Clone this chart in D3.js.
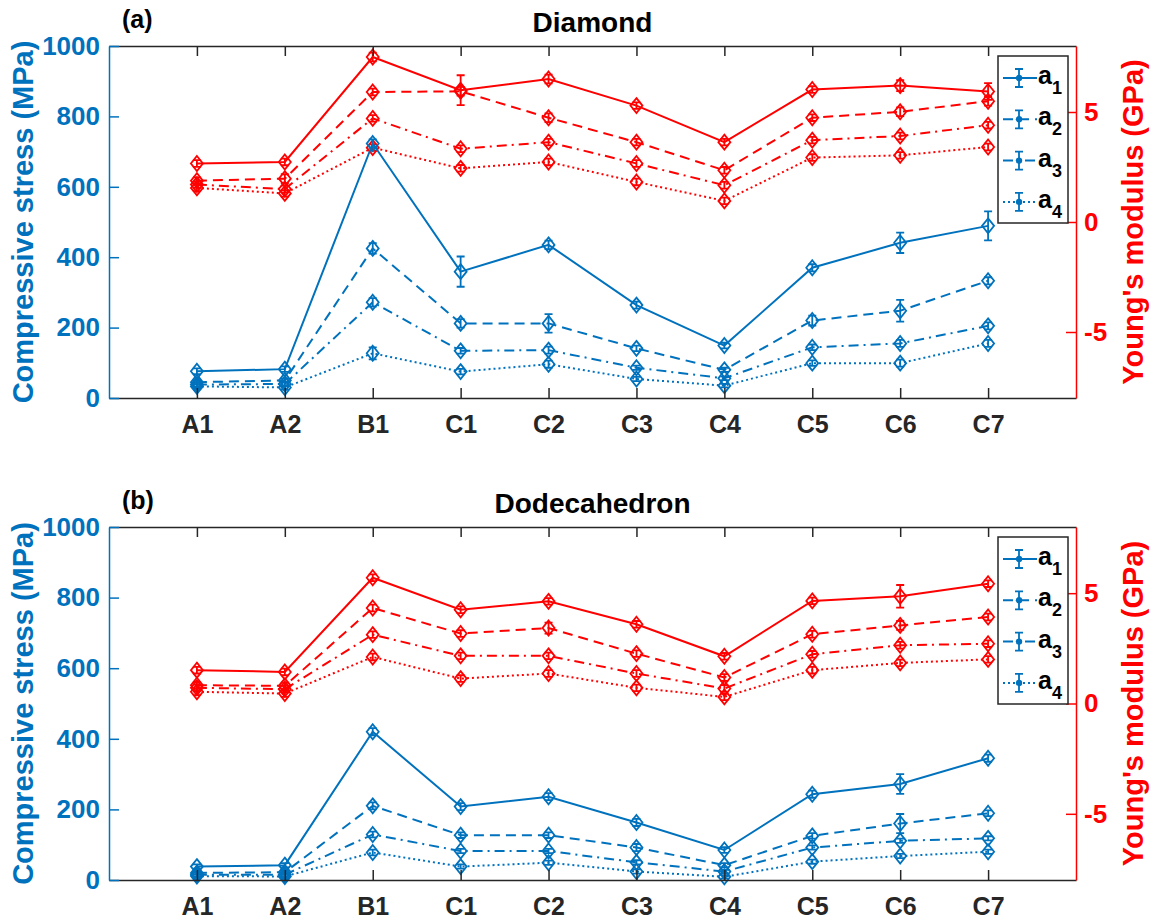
<!DOCTYPE html>
<html>
<head>
<meta charset="utf-8">
<script src="https://cdn.jsdelivr.net/npm/d3@7"></script>
<style>
  body { margin: 0; background: #fff; }
  svg text { font-family: "Liberation Sans", Arial, sans-serif; font-weight: bold; }
</style>
</head>
<body>
<div id="chart"></div>
<script>
var categories = ["A1", "A2", "B1", "C1", "C2", "C3", "C4", "C5", "C6", "C7"];
var seriesNames = ["1", "2", "3", "4"];
var stressTicks = [0, 200, 400, 600, 800, 1000];
var modulusTicks = [-5, 0, 5];

// (a) Diamond, compressive stress (MPa), one row per series a1..a4
var diamondStress = [
  [76, 82, 723, 359, 435, 264, 149, 370, 441, 489],
  [45, 50, 425, 212, 212, 141, 80, 220, 248, 333],
  [38, 40, 272, 134, 136, 86, 56, 144, 155, 205],
  [33, 30, 127, 75, 96, 54, 35, 99, 99, 155]
];
var diamondStressErr = [
  [8, 8, 12, 43, 12, 10, 8, 10, 29, 41],
  [6, 6, 15, 12, 26, 8, 6, 14, 31, 10],
  [6, 6, 12, 8, 10, 6, 5, 8, 10, 10],
  [6, 6, 17, 8, 10, 6, 5, 8, 10, 10]
];
// (a) Diamond, Young's modulus (GPa)
var diamondModulus = [
  [2.66, 2.73, 7.50, 5.99, 6.50, 5.29, 3.63, 6.02, 6.20, 5.93],
  [1.88, 1.97, 5.91, 5.94, 4.74, 3.63, 2.35, 4.74, 5.01, 5.49],
  [1.70, 1.50, 4.71, 3.33, 3.63, 2.66, 1.67, 3.72, 3.91, 4.40],
  [1.55, 1.30, 3.38, 2.44, 2.73, 1.82, 0.96, 2.93, 3.03, 3.41]
];
var diamondModulusErr = [
  [0.15, 0.15, 0.2, 0.68, 0.2, 0.15, 0.15, 0.15, 0.25, 0.38],
  [0.15, 0.2, 0.15, 0.2, 0.2, 0.15, 0.15, 0.15, 0.2, 0.2],
  [0.15, 0.15, 0.15, 0.15, 0.15, 0.15, 0.15, 0.15, 0.15, 0.15],
  [0.15, 0.15, 0.15, 0.15, 0.15, 0.15, 0.15, 0.15, 0.15, 0.15]
];

// (b) Dodecahedron
var dodecaStress = [
  [38, 42, 420, 208, 236, 163, 85, 243, 272, 345],
  [20, 22, 210, 127, 127, 92, 42, 125, 160, 189],
  [15, 15, 129, 82, 82, 50, 24, 92, 111, 118],
  [11, 10, 78, 38, 49, 24, 9, 52, 68, 80]
];
var dodecaStressErr = [
  [6, 6, 10, 10, 10, 10, 8, 10, 28, 10],
  [5, 5, 10, 8, 8, 10, 6, 8, 27, 8],
  [5, 5, 8, 6, 6, 6, 5, 6, 6, 6],
  [5, 5, 8, 6, 6, 6, 5, 6, 6, 6]
];
var dodecaModulus = [
  [1.51, 1.43, 5.70, 4.25, 4.63, 3.59, 2.14, 4.65, 4.86, 5.43],
  [0.83, 0.80, 4.33, 3.17, 3.42, 2.26, 1.18, 3.14, 3.54, 3.92],
  [0.71, 0.65, 3.12, 2.16, 2.16, 1.36, 0.68, 2.23, 2.64, 2.71],
  [0.53, 0.45, 2.11, 1.13, 1.36, 0.71, 0.30, 1.51, 1.84, 2.00]
];
var dodecaModulusErr = [
  [0.15, 0.15, 0.15, 0.15, 0.15, 0.15, 0.15, 0.15, 0.51, 0.15],
  [0.15, 0.15, 0.15, 0.15, 0.25, 0.15, 0.15, 0.15, 0.2, 0.15],
  [0.15, 0.15, 0.15, 0.15, 0.15, 0.15, 0.15, 0.15, 0.15, 0.15],
  [0.15, 0.15, 0.15, 0.15, 0.15, 0.15, 0.15, 0.15, 0.15, 0.15]
];

var blue = "#0072BD";
var red = "#FF0000";
var dark = "#262626";
var dashes = [null, "10,6", "10,5,2,5", "2,3"];
var tickLen = 10;

var width = 1155, height = 922;
var plotLeft = 109, plotRight = 1076;

var svg = d3.select("#chart").append("svg")
  .attr("width", width)
  .attr("height", height);

var x = d3.scaleLinear().domain([0, categories.length + 1]).range([plotLeft, plotRight]);

var panels = [
  {tag: "(a)", title: "Diamond", top: 46, bottom: 398,
   stress: diamondStress, stressErr: diamondStressErr,
   modulus: diamondModulus, modulusErr: diamondModulusErr},
  {tag: "(b)", title: "Dodecahedron", top: 527, bottom: 880,
   stress: dodecaStress, stressErr: dodecaStressErr,
   modulus: dodecaModulus, modulusErr: dodecaModulusErr}
];

function diamond(cx, cy) {
  return "M" + cx + "," + (cy - 7.5) + "L" + (cx + 6) + "," + cy +
    "L" + cx + "," + (cy + 7.5) + "L" + (cx - 6) + "," + cy + "Z";
}

function drawSeries(g, values, errs, y, color, dash) {
  var pts = values.map((v, i) => ({x: x(i + 1), v: v, e: errs[i]}));
  var line = d3.line().x(d => d.x).y(d => y(d.v));
  g.append("path")
    .attr("d", line(pts))
    .attr("fill", "none")
    .attr("stroke", color)
    .attr("stroke-width", 2)
    .attr("stroke-dasharray", dash);

  var eb = g.append("g").attr("stroke", color).attr("stroke-width", 1.8).attr("fill", "none");
  eb.selectAll("path.bar")
    .data(pts)
    .enter()
    .append("path")
    .attr("class", "bar")
    .attr("d", d => {
      var y0 = y(d.v - d.e), y1 = y(d.v + d.e);
      return "M" + d.x + "," + y0 + "V" + y1 +
        "M" + (d.x - 4) + "," + y0 + "H" + (d.x + 4) +
        "M" + (d.x - 4) + "," + y1 + "H" + (d.x + 4);
    });
  eb.selectAll("path.mk")
    .data(pts)
    .enter()
    .append("path")
    .attr("class", "mk")
    .attr("d", d => diamond(d.x, y(d.v)));
}

panels.forEach(function(p) {
  var g = svg.append("g");
  var yL = d3.scaleLinear().domain([0, 1000]).range([p.bottom, p.top]);
  var yR = d3.scaleLinear().domain([-8, 8]).range([p.bottom, p.top]);

  // modulus curves (red) then stress curves (blue)
  p.modulus.forEach((vals, k) => drawSeries(g, vals, p.modulusErr[k], yR, red, dashes[k]));
  p.stress.forEach((vals, k) => drawSeries(g, vals, p.stressErr[k], yL, blue, dashes[k]));

  // bottom axis
  var xb = g.append("g")
    .attr("transform", "translate(0," + p.bottom + ")")
    .call(d3.axisBottom(x)
      .tickValues(d3.range(1, categories.length + 1))
      .tickFormat(d => categories[d - 1])
      .tickSizeInner(-tickLen).tickSizeOuter(0).tickPadding(17));
  xb.select(".domain").attr("stroke", dark).attr("stroke-width", 1.5);
  xb.selectAll(".tick line").attr("stroke", dark).attr("stroke-width", 1.5);
  xb.selectAll(".tick text").attr("fill", dark).style("font-size", "25px").attr("dy", "0.71em");

  // top axis
  var xt = g.append("g")
    .attr("transform", "translate(0," + p.top + ")")
    .call(d3.axisTop(x)
      .tickValues(d3.range(1, categories.length + 1))
      .tickFormat("")
      .tickSizeInner(-tickLen).tickSizeOuter(0));
  xt.select(".domain").attr("stroke", dark).attr("stroke-width", 1.5);
  xt.selectAll(".tick line").attr("stroke", dark).attr("stroke-width", 1.5);

  // left axis
  var ya = g.append("g")
    .attr("transform", "translate(" + plotLeft + ",0)")
    .call(d3.axisLeft(yL).tickValues(stressTicks).tickFormat(d => String(d))
      .tickSizeInner(-tickLen).tickSizeOuter(0).tickPadding(9));
  ya.select(".domain").attr("stroke", blue).attr("stroke-width", 1.5);
  ya.selectAll(".tick line").attr("stroke", blue).attr("stroke-width", 1.5);
  ya.selectAll(".tick text").attr("fill", blue).style("font-size", "26px");

  // right axis
  var yb = g.append("g")
    .attr("transform", "translate(" + plotRight + ",0)")
    .call(d3.axisRight(yR).tickValues(modulusTicks).tickFormat(d => String(d))
      .tickSizeInner(-tickLen).tickSizeOuter(0).tickPadding(8));
  yb.select(".domain").attr("stroke", red).attr("stroke-width", 1.5);
  yb.selectAll(".tick line").attr("stroke", red).attr("stroke-width", 1.5);
  yb.selectAll(".tick text").attr("fill", red).style("font-size", "26px");

  var midY = (p.top + p.bottom) / 2;
  g.append("text")
    .attr("transform", "translate(33," + midY + ") rotate(-90)")
    .attr("text-anchor", "middle")
    .attr("fill", blue)
    .style("font-size", "29px")
    .text("Compressive stress (MPa)");
  g.append("text")
    .attr("transform", "translate(1143," + midY + ") rotate(-90)")
    .attr("text-anchor", "middle")
    .attr("fill", red)
    .style("font-size", "29px")
    .text("Young's modulus (GPa)");

  g.append("text")
    .attr("x", (plotLeft + plotRight) / 2)
    .attr("y", p.top - 14)
    .attr("text-anchor", "middle")
    .attr("fill", "#000")
    .style("font-size", "28px")
    .text(p.title);
  g.append("text")
    .attr("x", 122)
    .attr("y", p.top - 18)
    .attr("fill", "#000")
    .style("font-size", "25px")
    .text(p.tag);

  // legend
  var lg = g.append("g").attr("transform", "translate(998," + (p.top + 10) + ")");
  lg.append("rect")
    .attr("width", 70).attr("height", 167)
    .attr("fill", "#fff").attr("stroke", dark).attr("stroke-width", 1.5);
  var items = lg.selectAll("g.item")
    .data(seriesNames)
    .enter()
    .append("g")
    .attr("class", "item")
    .attr("transform", (d, i) => "translate(0," + (22 + i * 41.3) + ")");
  items.append("line")
    .attr("x1", 5).attr("x2", 39)
    .attr("stroke", blue).attr("stroke-width", 2)
    .attr("stroke-dasharray", (d, i) => dashes[i]);
  items.append("path")
    .attr("d", "M21,-9V9M17,-9H25M17,9H25")
    .attr("stroke", blue).attr("stroke-width", 1.8).attr("fill", "none");
  items.append("circle")
    .attr("cx", 21).attr("r", 3.2).attr("fill", blue);
  var lt = items.append("text")
    .attr("x", 40).attr("y", 6)
    .attr("fill", "#000")
    .style("font-size", "25px");
  lt.append("tspan").text("a");
  lt.append("tspan").attr("dy", 10).style("font-size", "18px").text(d => d);
});
</script>
</body>
</html>
